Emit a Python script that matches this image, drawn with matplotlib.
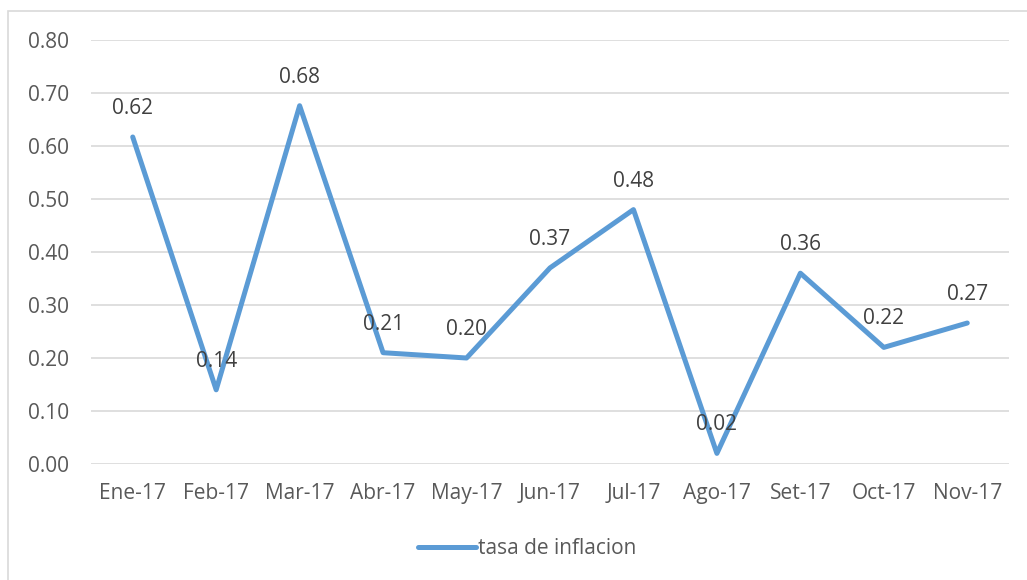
import matplotlib.pyplot as plt
from matplotlib.patches import Rectangle

meses = ['Ene-17', 'Feb-17', 'Mar-17', 'Abr-17', 'May-17', 'Jun-17',
         'Jul-17', 'Ago-17', 'Set-17', 'Oct-17', 'Nov-17']
tasa = [0.617, 0.14, 0.676, 0.21, 0.20, 0.37, 0.48, 0.02, 0.36, 0.22, 0.266]
y_ticks = [0.0, 0.1, 0.2, 0.3, 0.4, 0.5, 0.6, 0.7, 0.8]

plt.rcParams['font.family'] = ['Open Sans', 'DejaVu Sans']

fig = plt.figure(figsize=(10.27, 5.80), dpi=100)
ax = fig.add_axes([91 / 1027, 1 - 464 / 580, 918 / 1027, 424 / 580])

# borde exterior del grafico
fig.patches.append(Rectangle((8 / 1027, -0.01), 1.0, 1 - 11 / 580 + 0.01,
                             transform=fig.transFigure, fill=False,
                             edgecolor='#D9D9D9', linewidth=1.2))

x = list(range(len(meses)))
ax.plot(x, tasa, color='#5B9BD5', linewidth=3.6, solid_capstyle='round',
        solid_joinstyle='round', label='tasa de inflacion')

for xi, v in zip(x, tasa):
    ax.annotate('%.2f' % v, (xi, v), xytext=(0, 13), textcoords='offset points',
                ha='center', va='bottom', fontsize=15, color='#404040')

ax.set_xlim(-0.5, len(meses) - 0.5)
ax.set_ylim(0, 0.8)
ax.set_yticks(y_ticks)
ax.set_yticklabels(['%.2f' % t for t in y_ticks])
ax.set_xticks(x)
ax.set_xticklabels(meses)
ax.tick_params(axis='both', length=0, labelsize=15, labelcolor='#595959')
ax.tick_params(axis='y', pad=16)
ax.tick_params(axis='x', pad=14)
ax.grid(axis='y', color='#D9D9D9', linewidth=1.2)
ax.set_axisbelow(True)
for s in ax.spines.values():
    s.set_visible(False)

fig.legend(loc='center', bbox_to_anchor=(527 / 1027, 1 - 549 / 580),
           frameon=False, fontsize=15, labelcolor='#595959',
           handlelength=2.8, handletextpad=0.1)

fig.savefig('out.png', dpi=100)
